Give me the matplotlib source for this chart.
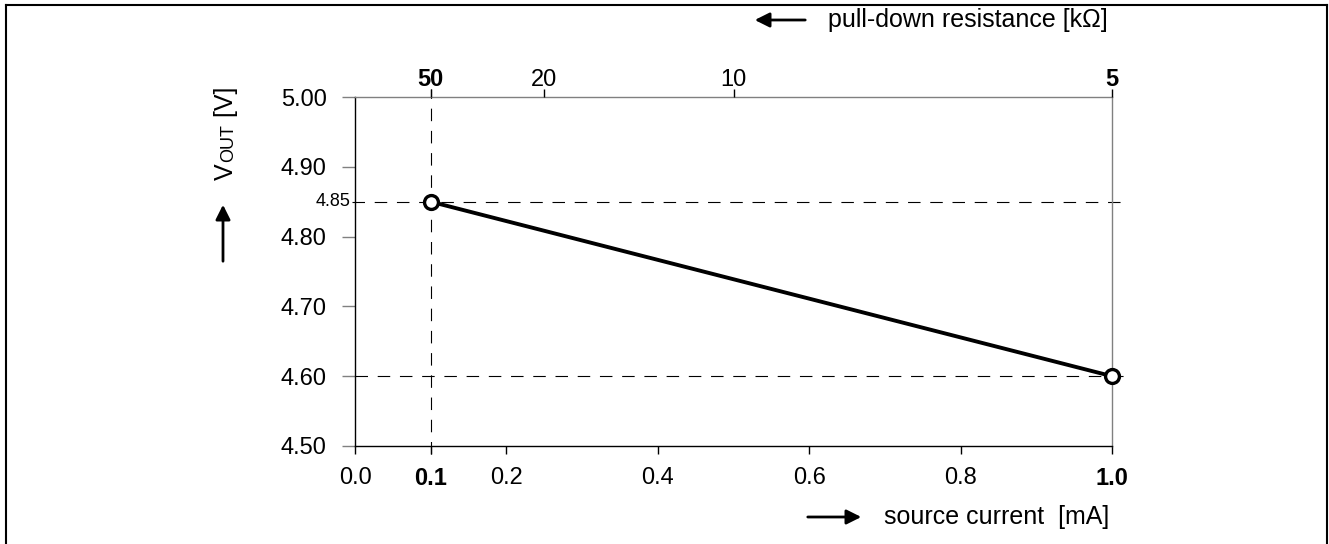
import matplotlib
matplotlib.use('Agg')
import matplotlib.pyplot as plt
from matplotlib.lines import Line2D
from matplotlib.patches import FancyArrowPatch
import matplotlib.transforms as mtransforms

# 数据
source_current = [0.1, 1.0]          # mA
v_out = [4.85, 4.60]                 # V
x_ticks = [0.0, 0.1, 0.2, 0.4, 0.6, 0.8, 1.0]
x_tick_labels = ['0.0', '0.1', '0.2', '0.4', '0.6', '0.8', '1.0']
y_ticks = [4.50, 4.60, 4.70, 4.80, 4.90, 5.00]
y_tick_labels = ['4.50', '4.60', '4.70', '4.80', '4.90', '5.00']
pulldown_kohm = [50, 20, 10, 5]
supply_v = 5.0
marked_v = [4.85, 4.60]

plt.rcParams['font.family'] = ['Liberation Sans', 'DejaVu Sans']
plt.rcParams['lines.scale_dashes'] = False

W, H = 1329, 544
fig = plt.figure(figsize=(W / 100, H / 100), dpi=100)


def fx(px):
    return px / W


def fy(py):
    return 1 - py / H


x0, x1, y0, y1 = 355, 1112, 97, 446
ax = fig.add_axes([fx(x0), fy(y1), fx(x1 - x0), (y1 - y0) / H])
ax.set_xlim(0, 1.0)
ax.set_ylim(4.5, 5.0)

grey = '#808080'
ax.spines['left'].set_color('black')
ax.spines['bottom'].set_color('black')
ax.spines['top'].set_color(grey)
ax.spines['right'].set_color(grey)
for s in ax.spines.values():
    s.set_linewidth(1.0)

ax.set_xticks(x_ticks)
ax.set_xticklabels(x_tick_labels, fontsize=17)
ax.set_yticks(y_ticks)
ax.set_yticklabels(y_tick_labels, fontsize=17)
ax.tick_params(axis='x', direction='out', length=6, width=1, pad=9, color='black')
ax.tick_params(axis='y', direction='out', length=9.5, width=1, pad=11, color=grey)
for lab in ax.get_xticklabels():
    if lab.get_text() in ('0.1', '1.0'):
        lab.set_fontweight('bold')

# 上方电阻刻度
ax2 = ax.twiny()
ax2.set_xlim(ax.get_xlim())
ax2.set_xticks([supply_v / r for r in pulldown_kohm])
ax2.set_xticklabels([str(r) for r in pulldown_kohm], fontsize=17)
ax2.tick_params(axis='x', direction='out', length=6, width=1, pad=-2, color='black')
for lab in ax2.get_xticklabels():
    if lab.get_text() in ('50', '5'):
        lab.set_fontweight('bold')
for s in ax2.spines.values():
    s.set_visible(False)

# 虚线
dash = (0, (9, 7))
ax.axvline(source_current[0], ymin=-8 / 349, ymax=1 + 8 / 349, color='black',
           lw=0.8, ls=dash, clip_on=False, zorder=1)
ax.axhline(marked_v[0], xmin=-3 / 757, xmax=1 + 16 / 757, color='black',
           lw=0.8, ls=dash, clip_on=False, zorder=1)
ax.axhline(marked_v[1], xmin=0, xmax=1 + 16 / 757, color='black',
           lw=0.8, ls=dash, clip_on=False, zorder=1)
trans = mtransforms.blended_transform_factory(ax.transAxes, ax.transData)
ax.text(-5 / 757, marked_v[0], '4.85', transform=trans, ha='right', va='center', fontsize=13)

# 曲线
ax.plot(source_current, v_out, color='black', lw=2.8, marker='o', markersize=10,
        markerfacecolor='white', markeredgecolor='black', markeredgewidth=2.4,
        clip_on=False, zorder=5)

# Y 轴标签
fig.text(fx(233), fy(180), 'V', rotation=90, rotation_mode='anchor',
         ha='left', va='baseline', fontsize=18)
fig.text(fx(233), fy(162), 'OUT', rotation=90, rotation_mode='anchor',
         ha='left', va='baseline', fontsize=13)
fig.text(fx(233), fy(124), ' [V]', rotation=90, rotation_mode='anchor',
         ha='left', va='baseline', fontsize=18)


def arrow(xa, ya, xb, yb):
    a = FancyArrowPatch((fx(xa), fy(ya)), (fx(xb), fy(yb)), transform=fig.transFigure,
                        arrowstyle='-|>', mutation_scale=22, lw=2, color='black')
    fig.add_artist(a)


arrow(223, 264, 223, 202)
arrow(808, 20, 752, 20)
fig.text(fx(828), fy(20), 'pull-down resistance [k\u03a9]', ha='left', va='center', fontsize=18)
arrow(805, 517, 864, 517)
fig.text(fx(884), fy(517), 'source current  [mA]', ha='left', va='center', fontsize=18)

# 外框
for xs, ys in [([5.5, 5.5], [5, 544]), ([5.5, 1327], [5, 5]), ([1327, 1327], [5, 544])]:
    fig.add_artist(Line2D([fx(v) for v in xs], [fy(v) for v in ys],
                          transform=fig.transFigure, color='black', lw=1.5))

fig.savefig('out.png', dpi=100)
